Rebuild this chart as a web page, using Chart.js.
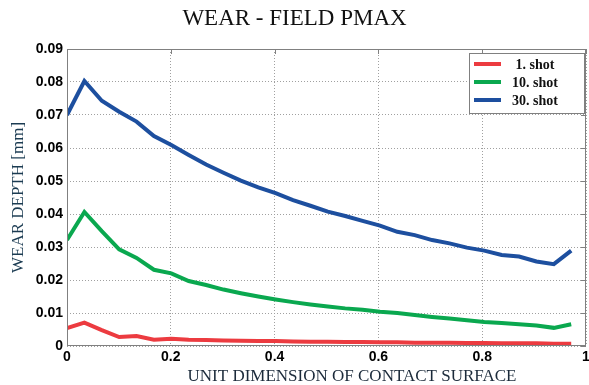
<!DOCTYPE html>
<html lang="en">
<head>
  <meta charset="UTF-8" />
  <title>Wear - Field Pmax</title>
  <script src="https://cdn.jsdelivr.net/npm/chart.js"></script>
  <style>
    html, body { margin: 0; padding: 0; background: white; }
    #wrap { width: 589px; height: 385px; }
  </style>
</head>
<body>
  <div id="wrap"><canvas id="wearChart" width="589" height="385"></canvas></div>

  <script>
    // position along the contact surface
    const xs = [0, 0.0335, 0.067, 0.1005, 0.134, 0.1675, 0.201, 0.2345, 0.268, 0.3015,
                0.335, 0.3685, 0.402, 0.4355, 0.469, 0.5025, 0.536, 0.5695, 0.603, 0.6365,
                0.67, 0.7035, 0.737, 0.7705, 0.804, 0.8375, 0.871, 0.9045, 0.938, 0.9715];

    const shot1 = [0.0054, 0.0071, 0.0048, 0.0027, 0.0030, 0.0019, 0.0022, 0.0019, 0.0018, 0.0017,
                   0.0016, 0.0015, 0.0015, 0.0014, 0.0013, 0.0013, 0.0012, 0.0012, 0.0011, 0.0011,
                   0.0010, 0.0010, 0.0010, 0.0009, 0.0009, 0.0008, 0.0008, 0.0008, 0.0007, 0.0007];

    const shot10 = [0.0321, 0.0406, 0.0348, 0.0293, 0.0267, 0.0231, 0.0220, 0.0197, 0.0185, 0.0171,
                    0.0160, 0.0150, 0.0141, 0.0133, 0.0126, 0.0120, 0.0114, 0.0110, 0.0104, 0.0100,
                    0.0094, 0.0088, 0.0083, 0.0078, 0.0073, 0.0070, 0.0066, 0.0062, 0.0055, 0.0066];

    const shot30 = [0.0700, 0.0803, 0.0743, 0.0710, 0.0680, 0.0636, 0.0609, 0.0579, 0.0550, 0.0525,
                    0.0501, 0.0481, 0.0463, 0.0442, 0.0425, 0.0407, 0.0394, 0.0379, 0.0365, 0.0346,
                    0.0336, 0.0321, 0.0311, 0.0298, 0.0289, 0.0276, 0.0271, 0.0256, 0.0248, 0.0289];

    const seriesNames = ['1. shot', '10. shot', '30. shot'];
    const seriesColors = ['#ec3b40', '#0aa84f', '#1d4f9f'];
    const xTitle = 'UNIT DIMENSION OF CONTACT SURFACE';

    const toPoints = vals => vals.map((v, i) => ({ x: xs[i], y: v }));
    const serif = '"Liberation Serif", "Times New Roman", serif';

    // frame, inside ticks, x title and the boxed legend, matlab style
    const framePlugin = {
      id: 'frame',
      afterDraw(chart) {
        const { ctx, chartArea: a, scales } = chart;
        ctx.save();
        ctx.strokeStyle = '#808080';
        ctx.lineWidth = 1;
        ctx.strokeRect(a.left + 0.5, a.top + 0.5, a.right - a.left - 1, a.bottom - a.top - 1);

        ctx.beginPath();
        scales.x.ticks.forEach(t => {
          const px = Math.round(scales.x.getPixelForValue(t.value)) + 0.5;
          ctx.moveTo(px, a.top); ctx.lineTo(px, a.top + 5);
        });
        scales.y.ticks.forEach(t => {
          const py = Math.round(scales.y.getPixelForValue(t.value)) + 0.5;
          ctx.moveTo(a.right, py); ctx.lineTo(a.right - 5, py);
        });
        ctx.stroke();

        // x axis title sits a bit right of centre in the original
        ctx.font = '17px ' + serif;
        ctx.fillStyle = '#1b2a3a';
        ctx.textAlign = 'center';
        ctx.textBaseline = 'middle';
        ctx.fillText(xTitle, 352, 377);

        // legend box
        const bx = 469, by = 53, bw = 115, bh = 60;
        ctx.fillStyle = 'white';
        ctx.fillRect(bx, by, bw, bh);
        ctx.strokeRect(bx + 0.5, by + 0.5, bw, bh);
        ctx.font = 'bold 14px ' + serif;
        chart.data.datasets.forEach((ds, i) => {
          const ry = by + 11 + i * 18;
          ctx.strokeStyle = ds.borderColor;
          ctx.lineWidth = 4;
          ctx.beginPath();
          ctx.moveTo(bx + 5, ry); ctx.lineTo(bx + 32, ry);
          ctx.stroke();
          ctx.fillStyle = '#111';
          ctx.fillText(ds.label, bx + 66, ry + 1);
        });
        ctx.restore();
      }
    };

    const ctx = document.getElementById('wearChart').getContext('2d');
    new Chart(ctx, {
      type: 'line',
      data: {
        datasets: [shot1, shot10, shot30].map((vals, i) => ({
          label: seriesNames[i],
          data: toPoints(vals),
          borderColor: seriesColors[i],
          backgroundColor: seriesColors[i],
          borderWidth: 4,
          pointRadius: 0,
          tension: 0,
          fill: false
        }))
      },
      options: {
        responsive: false,
        animation: false,
        layout: { padding: { top: 0, right: 0, bottom: 0, left: 0 } },
        plugins: {
          legend: { display: false },
          tooltip: { enabled: false },
          title: {
            display: true,
            text: 'WEAR - FIELD PMAX',
            color: '#111',
            font: { family: serif, size: 23, weight: 'normal' },
            padding: { top: 5, bottom: 16.4 }
          }
        },
        scales: {
          x: {
            type: 'linear',
            min: 0,
            max: 1,
            ticks: {
              stepSize: 0.2,
              color: '#000',
              padding: 3,
              font: { family: '"Liberation Sans", Arial, sans-serif', size: 14, weight: 'bold' },
              callback: v => (v === 0 ? '0' : Math.abs(v - 1) < 1e-9 ? '1' : v.toFixed(1))
            },
            grid: { color: '#a0a0a0', drawTicks: false },
            border: { display: false, dash: [1, 2] },
            title: { display: false },
            afterFit: s => { s.height = 39; s.paddingRight = 3; }
          },
          y: {
            min: 0,
            max: 0.09,
            ticks: {
              stepSize: 0.01,
              color: '#000',
              padding: 4,
              font: { family: '"Liberation Sans", Arial, sans-serif', size: 14, weight: 'bold' },
              callback: v => (v === 0 ? '0' : v.toFixed(2))
            },
            grid: { color: '#a0a0a0', drawTicks: false },
            border: { display: false, dash: [1, 2] },
            title: {
              display: true,
              text: 'WEAR DEPTH [mm]',
              color: '#1b3b52',
              font: { family: serif, size: 17 },
              padding: { top: 8, bottom: 0 }
            },
            afterFit: s => { s.width = 67; }
          }
        }
      },
      plugins: [framePlugin]
    });
  </script>
</body>
</html>
